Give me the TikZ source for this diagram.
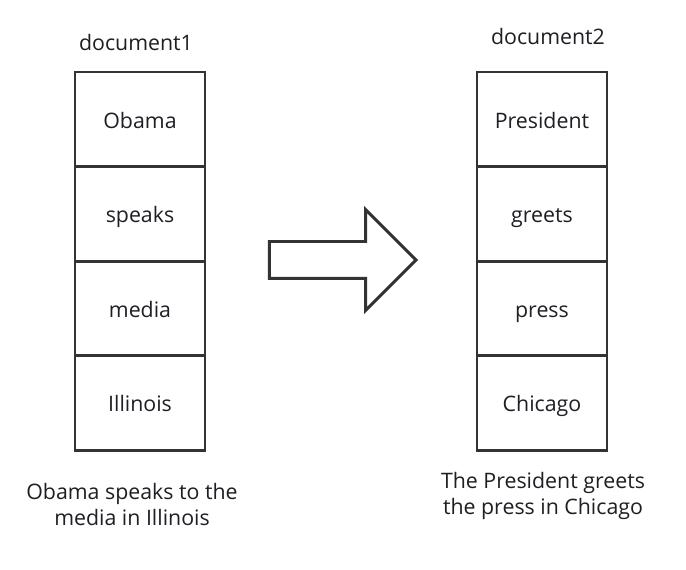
\documentclass[tikz,border=0pt]{standalone}
\usepackage{fontspec}
\setmainfont{Open Sans}
\usetikzlibrary{positioning, shapes.arrows}
\definecolor{boxline}{RGB}{51, 51, 51}
\definecolor{inktext}{RGB}{30, 30, 36}
\tikzset{
	word/.style={rectangle, draw=boxline, line width=2.2pt, outer sep=0pt, minimum width=97.5pt, minimum height=70.9pt, text height=15pt, text depth=1.5pt, font=\fontsize{16}{19}\selectfont, text=inktext},
	doctitle/.style={font=\fontsize{16}{19}\selectfont, text=inktext},
	sentence/.style={align=center, font=\fontsize{16}{19.5}\selectfont, text=inktext},
	bigarrow/.style={single arrow, draw=boxline, line width=2.2pt, minimum height=110pt, inner xsep=0pt, inner ysep=12.75pt, single arrow head extend=24pt, single arrow tip angle=90},
}
\begin{document}
\begin{tikzpicture}[x=0.75pt, y=-0.75pt]
		\useasboundingbox (0,0) rectangle (686,570);
		% first document
		\node[word] (obama) at (140,119.25) {Obama};
		\node[word, below=0pt of obama] (speaks) {speaks};
		\node[word, below=0pt of speaks] (media) {media};
		\node[word, below=0pt of media] (illinois) {Illinois};
		\node[doctitle] (doc1) at (136,43) {document1};
		\node[sentence] (sent1) at (132,504) {Obama speaks to the\\media in Illinois};
		% second document
		\node[word] (president) at (542,119.25) {President};
		\node[word, below=0pt of president] (greets) {greets};
		\node[word, below=0pt of greets] (press) {press};
		\node[word, below=0pt of press] (chicago) {Chicago};
		\node[doctitle] (doc2) at (548,37) {document2};
		\node[sentence] (sent2) at (543,496) {The President greets\\the press in Chicago};
		% transformation
		\node[bigarrow] (map) at (333.5,260) {};
	\end{tikzpicture}
\end{document}
